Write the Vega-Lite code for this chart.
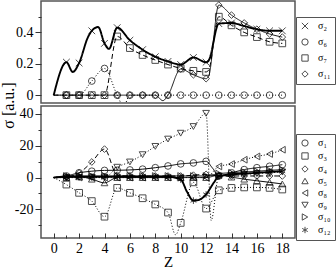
{
"$schema":"https://vega.github.io/schema/vega-lite/v6.json",
"autosize":{"type":"none"},
"padding":{"left":41,"top":1,"right":295,"bottom":268},
"background":"white",
"bounds":"flush",
"spacing":3,
"config":{
 "view":{"stroke":"#555","strokeWidth":1.5},
 "axis":{"labelFont":"Liberation Serif","labelFontSize":14,"labelColor":"black","tickColor":"#333","domain":false,"grid":false,"titleFont":"Liberation Serif","titleColor":"black","titleFontWeight":"normal"}
},
"datasets":{
"top":[
{"s":"σ₂","z":0,"v":0},{"s":"σ₂","z":1,"v":0.21},{"s":"σ₂","z":1.5,"v":0.148},{"s":"σ₂","z":2,"v":0.205},{"s":"σ₂","z":2.7,"v":0.37},{"s":"σ₂","z":3,"v":0.41},{"s":"σ₂","z":3.5,"v":0.434},{"s":"σ₂","z":4,"v":0.33},{"s":"σ₂","z":4.35,"v":0.295},{"s":"σ₂","z":5,"v":0.43},{"s":"σ₂","z":6,"v":0.35},{"s":"σ₂","z":7,"v":0.29},{"s":"σ₂","z":8,"v":0.245},{"s":"σ₂","z":9,"v":0.215},{"s":"σ₂","z":10,"v":0.195},{"s":"σ₂","z":11,"v":0.24},{"s":"σ₂","z":12,"v":0.21},{"s":"σ₂","z":12.2,"v":0.22},{"s":"σ₂","z":13,"v":0.456},{"s":"σ₂","z":14,"v":0.46},{"s":"σ₂","z":15,"v":0.44},{"s":"σ₂","z":16,"v":0.42},{"s":"σ₂","z":17,"v":0.41},{"s":"σ₂","z":18,"v":0.41},
{"s":"σ₆","z":0,"v":0},{"s":"σ₆","z":1,"v":0},{"s":"σ₆","z":2,"v":0},{"s":"σ₆","z":3,"v":0.09},{"s":"σ₆","z":4,"v":0.17},{"s":"σ₆","z":5,"v":0},{"s":"σ₆","z":5.5,"v":-0.07},{"s":"σ₆","z":6,"v":0},{"s":"σ₆","z":7,"v":0},{"s":"σ₆","z":8,"v":0},{"s":"σ₆","z":9,"v":0},{"s":"σ₆","z":10,"v":0},{"s":"σ₆","z":11,"v":0},{"s":"σ₆","z":12,"v":0},{"s":"σ₆","z":13,"v":0},{"s":"σ₆","z":14,"v":0},{"s":"σ₆","z":15,"v":0},{"s":"σ₆","z":16,"v":0},{"s":"σ₆","z":17,"v":0},{"s":"σ₆","z":18,"v":0},
{"s":"σ₇","z":0,"v":0},{"s":"σ₇","z":1,"v":0},{"s":"σ₇","z":2,"v":0},{"s":"σ₇","z":3,"v":0},{"s":"σ₇","z":4,"v":0},{"s":"σ₇","z":5,"v":0.374},{"s":"σ₇","z":6,"v":0.3},{"s":"σ₇","z":7,"v":0.256},{"s":"σ₇","z":8,"v":0.224},{"s":"σ₇","z":9,"v":0.195},{"s":"σ₇","z":10,"v":0.17},{"s":"σ₇","z":11,"v":0.155},{"s":"σ₇","z":12,"v":0.148},{"s":"σ₇","z":12.2,"v":0.16},{"s":"σ₇","z":13,"v":0.5},{"s":"σ₇","z":14,"v":0.445},{"s":"σ₇","z":15,"v":0.4},{"s":"σ₇","z":16,"v":0.37},{"s":"σ₇","z":17,"v":0.34},{"s":"σ₇","z":18,"v":0.33},
{"s":"σ₁₁","z":0,"v":0},{"s":"σ₁₁","z":1,"v":0},{"s":"σ₁₁","z":2,"v":0},{"s":"σ₁₁","z":3,"v":0},{"s":"σ₁₁","z":4,"v":0},{"s":"σ₁₁","z":5,"v":0},{"s":"σ₁₁","z":6,"v":0},{"s":"σ₁₁","z":7,"v":0},{"s":"σ₁₁","z":8,"v":0},{"s":"σ₁₁","z":8.6,"v":-0.035},{"s":"σ₁₁","z":9,"v":0},{"s":"σ₁₁","z":10,"v":0.166},{"s":"σ₁₁","z":11,"v":0.13},{"s":"σ₁₁","z":12,"v":0.105},{"s":"σ₁₁","z":12.2,"v":0.12},{"s":"σ₁₁","z":13,"v":0.574},{"s":"σ₁₁","z":14,"v":0.51},{"s":"σ₁₁","z":15,"v":0.46},{"s":"σ₁₁","z":16,"v":0.42},{"s":"σ₁₁","z":17,"v":0.39},{"s":"σ₁₁","z":18,"v":0.37}
],
"bot":[
{"s":"σ₁","z":0,"v":0},{"s":"σ₁","z":1,"v":1},{"s":"σ₁","z":2,"v":3},{"s":"σ₁","z":3,"v":4},{"s":"σ₁","z":4,"v":4.5},{"s":"σ₁","z":5,"v":4.6},{"s":"σ₁","z":6,"v":4.8},{"s":"σ₁","z":7,"v":5.3},{"s":"σ₁","z":8,"v":6.2},{"s":"σ₁","z":9,"v":7.3},{"s":"σ₁","z":10,"v":8.6},{"s":"σ₁","z":11,"v":9.2},{"s":"σ₁","z":12,"v":10.2},{"s":"σ₁","z":12.5,"v":6},{"s":"σ₁","z":13,"v":1},{"s":"σ₁","z":14,"v":3},{"s":"σ₁","z":15,"v":5},{"s":"σ₁","z":16,"v":6.2},{"s":"σ₁","z":17,"v":7.1},{"s":"σ₁","z":18,"v":8.1},
{"s":"σ₃","z":0,"v":0},{"s":"σ₃","z":1,"v":-4.4},{"s":"σ₃","z":2,"v":-9.6},{"s":"σ₃","z":3,"v":-14.8},{"s":"σ₃","z":4,"v":-24.6},{"s":"σ₃","z":5,"v":-6.5},{"s":"σ₃","z":6,"v":-9.6},{"s":"σ₃","z":7,"v":-13},{"s":"σ₃","z":8,"v":-16.9},{"s":"σ₃","z":9,"v":-22},{"s":"σ₃","z":9.6,"v":-36},{"s":"σ₃","z":10,"v":-28.5},{"s":"σ₃","z":11,"v":-3},{"s":"σ₃","z":12,"v":-19.5},{"s":"σ₃","z":13,"v":-8},{"s":"σ₃","z":14,"v":-6.5},{"s":"σ₃","z":15,"v":-6.2},{"s":"σ₃","z":16,"v":-6.2},{"s":"σ₃","z":17,"v":-6.5},{"s":"σ₃","z":18,"v":-7.5},
{"s":"σ₄","z":0,"v":0},{"s":"σ₄","z":1,"v":0.5},{"s":"σ₄","z":2,"v":2.9},{"s":"σ₄","z":3,"v":9.8},{"s":"σ₄","z":4,"v":17.9},{"s":"σ₄","z":5,"v":1.5},{"s":"σ₄","z":6,"v":1},{"s":"σ₄","z":7,"v":1},{"s":"σ₄","z":8,"v":1},{"s":"σ₄","z":9,"v":1},{"s":"σ₄","z":10,"v":1},{"s":"σ₄","z":11,"v":1.5},{"s":"σ₄","z":12,"v":2},{"s":"σ₄","z":13,"v":1},{"s":"σ₄","z":14,"v":1},{"s":"σ₄","z":15,"v":1},{"s":"σ₄","z":16,"v":1},{"s":"σ₄","z":17,"v":1},{"s":"σ₄","z":18,"v":1},
{"s":"σ₅","z":0,"v":0},{"s":"σ₅","z":1,"v":0},{"s":"σ₅","z":2,"v":0.5},{"s":"σ₅","z":3,"v":-1},{"s":"σ₅","z":4,"v":-3.3},{"s":"σ₅","z":5,"v":0},{"s":"σ₅","z":6,"v":0},{"s":"σ₅","z":7,"v":0},{"s":"σ₅","z":8,"v":0},{"s":"σ₅","z":9,"v":0},{"s":"σ₅","z":10,"v":0},{"s":"σ₅","z":11,"v":0},{"s":"σ₅","z":12,"v":0},{"s":"σ₅","z":13,"v":1.5},{"s":"σ₅","z":14,"v":0.3},{"s":"σ₅","z":15,"v":-1},{"s":"σ₅","z":16,"v":-2},{"s":"σ₅","z":17,"v":-3},{"s":"σ₅","z":18,"v":-4},
{"s":"σ₈","z":0,"v":0},{"s":"σ₈","z":1,"v":0},{"s":"σ₈","z":2,"v":0},{"s":"σ₈","z":3,"v":0},{"s":"σ₈","z":4,"v":0},{"s":"σ₈","z":5,"v":0},{"s":"σ₈","z":6,"v":0},{"s":"σ₈","z":7,"v":0},{"s":"σ₈","z":8,"v":0},{"s":"σ₈","z":9,"v":0},{"s":"σ₈","z":10,"v":0},{"s":"σ₈","z":11,"v":0},{"s":"σ₈","z":12,"v":0},{"s":"σ₈","z":13,"v":7},{"s":"σ₈","z":14,"v":8.5},{"s":"σ₈","z":15,"v":11.2},{"s":"σ₈","z":16,"v":13.3},{"s":"σ₈","z":17,"v":14.8},{"s":"σ₈","z":18,"v":17.5},
{"s":"σ₉","z":0,"v":0},{"s":"σ₉","z":1,"v":0},{"s":"σ₉","z":2,"v":0},{"s":"σ₉","z":3,"v":0},{"s":"σ₉","z":4,"v":0},{"s":"σ₉","z":5,"v":6.5},{"s":"σ₉","z":6,"v":9.8},{"s":"σ₉","z":7,"v":14.4},{"s":"σ₉","z":8,"v":19.6},{"s":"σ₉","z":9,"v":24.2},{"s":"σ₉","z":10,"v":27.9},{"s":"σ₉","z":11,"v":32.1},{"s":"σ₉","z":12,"v":40.4},{"s":"σ₉","z":12.4,"v":-27},{"s":"σ₉","z":13,"v":1},{"s":"σ₉","z":14,"v":1.5},{"s":"σ₉","z":15,"v":2},{"s":"σ₉","z":16,"v":2.5},{"s":"σ₉","z":17,"v":3},{"s":"σ₉","z":18,"v":3.5},
{"s":"σ₁₀","z":0,"v":0},{"s":"σ₁₀","z":1,"v":1},{"s":"σ₁₀","z":2,"v":1},{"s":"σ₁₀","z":3,"v":1},{"s":"σ₁₀","z":4,"v":1},{"s":"σ₁₀","z":5,"v":1},{"s":"σ₁₀","z":6,"v":1},{"s":"σ₁₀","z":7,"v":1},{"s":"σ₁₀","z":8,"v":1},{"s":"σ₁₀","z":9,"v":1},{"s":"σ₁₀","z":10,"v":1},{"s":"σ₁₀","z":11,"v":1},{"s":"σ₁₀","z":12,"v":1},{"s":"σ₁₀","z":13,"v":2.5},{"s":"σ₁₀","z":14,"v":3},{"s":"σ₁₀","z":15,"v":3.5},{"s":"σ₁₀","z":16,"v":4},{"s":"σ₁₀","z":17,"v":4.5},{"s":"σ₁₀","z":18,"v":5},
{"s":"σ₁₂","z":0,"v":0},{"s":"σ₁₂","z":1,"v":0.5},{"s":"σ₁₂","z":2,"v":0.5},{"s":"σ₁₂","z":3,"v":0.5},{"s":"σ₁₂","z":4,"v":0.5},{"s":"σ₁₂","z":5,"v":0.5},{"s":"σ₁₂","z":6,"v":0.5},{"s":"σ₁₂","z":7,"v":0.5},{"s":"σ₁₂","z":8,"v":0.5},{"s":"σ₁₂","z":9,"v":0.5},{"s":"σ₁₂","z":10,"v":-1.2},{"s":"σ₁₂","z":10.5,"v":-9},{"s":"σ₁₂","z":11,"v":-14.5},{"s":"σ₁₂","z":11.5,"v":-13.8},{"s":"σ₁₂","z":12,"v":-10.6},{"s":"σ₁₂","z":12.6,"v":-3.3},{"s":"σ₁₂","z":13,"v":0.8},{"s":"σ₁₂","z":14,"v":2},{"s":"σ₁₂","z":15,"v":2.5},{"s":"σ₁₂","z":16,"v":3},{"s":"σ₁₂","z":17,"v":3.5},{"s":"σ₁₂","z":18,"v":4}
]
},
"resolve":{"scale":{"shape":"independent","strokeDash":"independent","strokeWidth":"independent"},"legend":{"shape":"independent"}},
"vconcat":[
{
 "width":254,"height":102,
 "data":{"name":"top"},
 "layer":[
  {"mark":{"type":"line","interpolate":"monotone","clip":true,"color":"black"},
   "encoding":{
    "x":{"field":"z","type":"quantitative","scale":{"domain":[-1,19],"nice":false,"zero":false},"axis":null},
    "y":{"field":"v","type":"quantitative","scale":{"domain":[-0.05,0.6],"nice":false,"zero":false},"axis":{"orient":"left","values":[0.1,0.3,0.5],"tickSize":3,"labels":false,"title":null}},
    "strokeDash":{"field":"s","type":"nominal","scale":{"domain":["σ₁₁","σ₇","σ₆","σ₂"],"range":[[1,0],[5,3],[1,2],[1,0]]},"legend":null},
    "strokeWidth":{"field":"s","type":"nominal","scale":{"type":"ordinal","domain":["σ₇","σ₁₁","σ₂","σ₆"],"range":[1,0.9,1.9,1]},"legend":null}
   }},
  {"transform":[{"filter":"datum.z == floor(datum.z) && datum.z > 0"}],
   "mark":{"type":"point","filled":false,"color":"black","size":45,"strokeWidth":1,"clip":true},
   "encoding":{
    "x":{"field":"z","type":"quantitative","axis":null},
    "y":{"field":"v","type":"quantitative","axis":{"orient":"left","values":[0,0.2,0.4],"tickSize":6,"labelPadding":2,"labelExpr":"'' + datum.value","title":"σ [a.u.]","titleFontSize":16,"titleX":-25,"titleY":104}},
    "shape":{"field":"s","type":"nominal","scale":{"domain":["σ₂","σ₆","σ₇","σ₁₁"],"range":["M-1,-1L1,1M-1,1L1,-1","circle","square","diamond"]},"legend":{"orient":"none","legendX":255,"legendY":16,"title":null,"labelFont":"Liberation Serif","labelFontSize":10,"labelColor":"black","strokeColor":"#555","fillColor":"white","padding":4,"symbolSize":40,"symbolStrokeColor":"black","symbolStrokeWidth":1,"labelOffset":8,"rowPadding":4}}
   }}
 ],
 "resolve":{"axis":{"y":"independent"}}
},
{
 "width":254,"height":132,
 "data":{"name":"bot"},
 "layer":[
  {"mark":{"type":"line","interpolate":"monotone","clip":true,"color":"black"},
   "encoding":{
    "x":{"field":"z","type":"quantitative","scale":{"domain":[-1,19],"nice":false,"zero":false},"axis":{"orient":"bottom","values":[1,3,5,7,9,11,13,15,17],"tickSize":-3,"labels":false,"title":null}},
    "y":{"field":"v","type":"quantitative","scale":{"domain":[-38,45],"nice":false,"zero":false},"axis":{"orient":"left","values":[-30,-10,10,30],"tickSize":3,"labels":false,"title":null}},
    "strokeDash":{"field":"s","type":"nominal","scale":{"domain":["σ₁₂","σ₁₀","σ₉","σ₈","σ₅","σ₄","σ₃","σ₁"],"range":[[1,0],[1,0],[1,2],[1,2],[1,0],[5,3],[1,2],[1,0]]},"legend":null},
    "strokeWidth":{"field":"s","type":"nominal","scale":{"type":"ordinal","domain":["σ₃","σ₁","σ₄","σ₅","σ₈","σ₉","σ₁₀","σ₁₂"],"range":[1,1,1,1,1,1,1,1.9]},"legend":null}
   }},
  {"transform":[{"filter":"datum.z == floor(datum.z) && datum.z > 0"}],
   "mark":{"type":"point","filled":false,"color":"black","size":45,"strokeWidth":1,"clip":true},
   "encoding":{
    "x":{"field":"z","type":"quantitative","axis":{"orient":"bottom","values":[0,2,4,6,8,10,12,14,16,18],"tickSize":-5,"labelPadding":8,"title":"Z","titleFontSize":15,"titlePadding":-1}},
    "y":{"field":"v","type":"quantitative","axis":{"orient":"left","values":[-20,0,20,40],"tickSize":6,"labelPadding":2,"labelExpr":"'' + datum.value","title":null}},
    "shape":{"field":"s","type":"nominal","scale":{"domain":["σ₁","σ₃","σ₄","σ₅","σ₈","σ₉","σ₁₀","σ₁₂"],"range":["circle","square","diamond","triangle-up","triangle-left","triangle-down","triangle-right","M0,-1L0,1M-0.87,-0.5L0.87,0.5M-0.87,0.5L0.87,-0.5"]},"legend":{"orient":"none","legendX":255,"legendY":28,"title":null,"labelFont":"Liberation Serif","labelFontSize":10,"labelColor":"black","strokeColor":"#555","fillColor":"white","padding":4,"symbolSize":40,"symbolStrokeColor":"black","symbolStrokeWidth":1,"labelOffset":8,"rowPadding":1}}
   }}
 ],
 "resolve":{"axis":{"x":"independent","y":"independent"}}
}
]
}
